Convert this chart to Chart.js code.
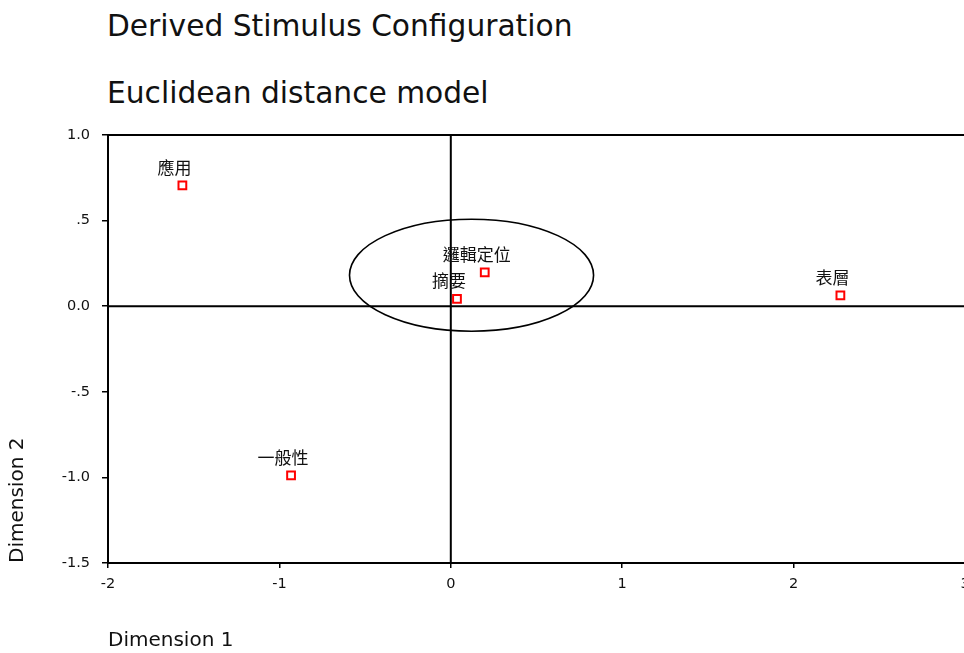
<!DOCTYPE html>
<html>
<head>
<meta charset="utf-8">
<script src="https://cdn.jsdelivr.net/npm/chart.js@4"></script>
<style>
  body { margin: 0; width: 964px; height: 653px; overflow: hidden; background: #fff; position: relative; }
  .title { position: absolute; left: 107px; font-family: "DejaVu Sans"; font-size: 29.7px; line-height: 1; color: #111; white-space: nowrap; }
  #wrap { position: absolute; left: 0; top: 0; width: 1000px; height: 653px; }
</style>
</head>
<body>
<div class="title" style="top:11px">Derived Stimulus Configuration</div>
<div class="title" style="top:78px">Euclidean distance model</div>
<div id="wrap"><canvas id="chart"></canvas></div>
<script>
// stimulus coordinates
const stimulusNames = ['應用', '邏輯定位', '摘要', '表層', '一般性'];
const dim1 = [-1.566, 0.198, 0.036, 2.273, -0.932];
const dim2 = [0.706, 0.198, 0.043, 0.063, -0.988];

const xTickLabels = ['-2', '-1', '0', '1', '2', '3'];
const yTickLabels = ['-1.5', '-1.0', '-.5', '0.0', '.5', '1.0'];

// ellipse drawn around the central group (data units)
const ellipseCenter = [0.121, 0.181];
const ellipseRadius = [0.712, 0.327];

const tickFont = { family: 'DejaVu Sans', size: 14.5 };

// zero lines, top border and the ellipse
const frameLines = {
  id: 'frameLines',
  beforeDatasetsDraw(chart) {
    const { ctx, chartArea: a, scales: { x, y } } = chart;
    ctx.save();
    ctx.strokeStyle = '#000';
    ctx.lineWidth = 2;
    ctx.beginPath();
    ctx.moveTo(x.getPixelForValue(0), a.top);
    ctx.lineTo(x.getPixelForValue(0), a.bottom);
    ctx.moveTo(a.left, y.getPixelForValue(0));
    ctx.lineTo(a.right, y.getPixelForValue(0));
    ctx.moveTo(a.left, a.top);
    ctx.lineTo(a.right, a.top);
    ctx.lineTo(a.right, a.bottom);
    ctx.stroke();

    const cx = x.getPixelForValue(ellipseCenter[0]);
    const cy = y.getPixelForValue(ellipseCenter[1]);
    const rx = x.getPixelForValue(ellipseCenter[0] + ellipseRadius[0]) - cx;
    const ry = cy - y.getPixelForValue(ellipseCenter[1] + ellipseRadius[1]);
    ctx.lineWidth = 1.6;
    ctx.beginPath();
    ctx.ellipse(cx, cy, rx, ry, 0, 0, Math.PI * 2);
    ctx.stroke();
    ctx.restore();
  }
};

// names above each marker
const pointLabels = {
  id: 'pointLabels',
  afterDatasetsDraw(chart) {
    const { ctx } = chart;
    const meta = chart.getDatasetMeta(0);
    ctx.save();
    ctx.font = '17px "Noto Sans CJK TC"';
    ctx.fillStyle = '#111';
    ctx.textAlign = 'center';
    ctx.textBaseline = 'middle';
    meta.data.forEach((pt, i) => {
      ctx.fillText(stimulusNames[i], pt.x - 8, pt.y - 18);
    });
    ctx.restore();
  }
};

new Chart(document.getElementById('chart'), {
  type: 'scatter',
  data: {
    datasets: [{
      data: dim1.map((v, i) => ({ x: v, y: dim2[i] })),
      pointStyle: 'rect',
      pointRadius: 5.5,
      pointHoverRadius: 5.5,
      borderColor: '#ff0000',
      backgroundColor: '#ffffff',
      borderWidth: 2
    }]
  },
  options: {
    responsive: true,
    maintainAspectRatio: false,
    animation: false,
    layout: { padding: { left: 0, top: 135, right: 35, bottom: 0 } },
    plugins: { legend: { display: false }, tooltip: { enabled: false } },
    scales: {
      x: {
        type: 'linear',
        min: -2,
        max: 3,
        afterFit(scale) { scale.height = 90; },
        ticks: {
          stepSize: 1,
          font: tickFont,
          color: '#111',
          padding: 8,
          maxRotation: 0,
          callback: (v, i) => xTickLabels[i]
        },
        grid: { drawOnChartArea: false, tickLength: 5, color: '#000', lineWidth: 1.5 },
        border: { color: '#000', width: 2 },
        title: {
          display: true,
          text: 'Dimension 1',
          align: 'start',
          color: '#111',
          font: { family: 'DejaVu Sans', size: 20 },
          padding: { top: 0, bottom: 0 }
        }
      },
      y: {
        type: 'linear',
        min: -1.5,
        max: 1.0,
        afterFit(scale) { scale.width = 108; },
        ticks: {
          stepSize: 0.5,
          font: tickFont,
          color: '#111',
          padding: 12,
          callback: (v, i) => yTickLabels[i]
        },
        grid: { drawOnChartArea: false, tickLength: 6, color: '#000', lineWidth: 1.5 },
        border: { color: '#000', width: 2 },
        title: {
          display: true,
          text: 'Dimension 2',
          align: 'start',
          color: '#111',
          font: { family: 'DejaVu Sans', size: 20 },
          padding: { top: 6, bottom: 0 }
        }
      }
    }
  },
  plugins: [frameLines, pointLabels]
});
</script>
</body>
</html>
